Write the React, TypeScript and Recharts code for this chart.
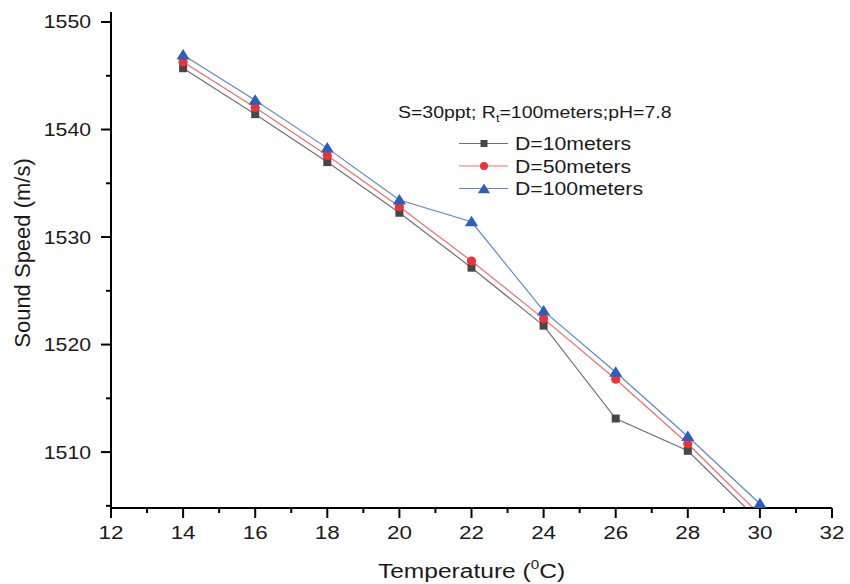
import React from 'react';
import { LineChart, Line, XAxis, YAxis } from 'recharts';

// ---- data ----
const temperatures = [14, 16, 18, 20, 22, 24, 26, 28, 30];
const speedD10 = [1545.7, 1541.43, 1536.97, 1532.26, 1527.15, 1521.76, 1513.12, 1510.12, 1503.53];
const speedD50 = [1546.28, 1542.05, 1537.59, 1532.81, 1527.77, 1522.41, 1516.78, 1510.77, 1504.18];
const speedD100 = [1546.93, 1542.73, 1538.27, 1533.44, 1531.42, 1523.13, 1517.43, 1511.45, 1505.2];
const seriesNames = ['D=10meters', 'D=50meters', 'D=100meters'];
const xTicks = [12, 13, 14, 15, 16, 17, 18, 19, 20, 21, 22, 23, 24, 25, 26, 27, 28, 29, 30, 31, 32];
const yTicks = [1505, 1510, 1515, 1520, 1525, 1530, 1535, 1540, 1545, 1550];
const xDomain = [12, 32];
const yDomain = [1504.8, 1550.93];

const data = temperatures.map((t, i) => ({
  t,
  d10: speedD10[i],
  d50: speedD50[i],
  d100: speedD100[i],
}));

const FONT = '"Liberation Sans", Arial, sans-serif';
const SX = 1.18;

const GREY_M = '#474747';
const GREY_L = '#707070';
const RED_M = '#ec3338';
const RED_L = '#f36b6b';
const BLUE_M = '#2d5fb8';
const BLUE_L = '#5b87cd';

const YTick = (props: any) => {
  const { x, y, payload } = props;
  const v = payload.value;
  const major = v % 10 === 0;
  return (
    <g>
      <line x1={x - (major ? 10 : 5)} x2={x} y1={y} y2={y} stroke="#000" strokeWidth={2} />
      {major && (
        <text
          transform={`translate(${x - 20},${y + 6.5}) scale(${SX},1)`}
          textAnchor="end"
          fontSize={18}
          fontFamily={FONT}
          fill="#1a1a1a"
        >
          {v}
        </text>
      )}
    </g>
  );
};

const XTick = (props: any) => {
  const { x, y, payload } = props;
  const v = payload.value;
  const major = v % 2 === 0;
  return (
    <g>
      <line x1={x} x2={x} y1={y} y2={y + (major ? 10 : 5)} stroke="#000" strokeWidth={2} />
      {major && (
        <text
          transform={`translate(${x},${y + 30.5}) scale(${SX},1)`}
          textAnchor="middle"
          fontSize={19}
          fontFamily={FONT}
          fill="#1a1a1a"
        >
          {v}
        </text>
      )}
    </g>
  );
};

const XLabel = (props: any) => {
  const vb = props.viewBox || {};
  const cx = vb.x + vb.width / 2;
  const y = vb.y + 70;
  return (
    <text
      transform={`translate(${cx},${y}) scale(1.17,1)`}
      textAnchor="middle"
      fontSize={21}
      fontFamily={FONT}
      fill="#1a1a1a"
    >
      Temperature (
      <tspan fontSize={13} dy={-9}>0</tspan>
      <tspan dy={9}>C)</tspan>
    </text>
  );
};

const YLabel = (props: any) => {
  const vb = props.viewBox || {};
  const cy = vb.y + vb.height / 2 - 7;
  const x = 30;
  return (
    <text
      transform={`translate(${x},${cy}) rotate(-90)`}
      textAnchor="middle"
      fontSize={22}
      fontFamily={FONT}
      fill="#1a1a1a"
    >
      Sound Speed (m/s)
    </text>
  );
};

const squarePath = (cx: number, cy: number, s: number) =>
  `M${cx - s},${cy - s}H${cx + s}V${cy + s}H${cx - s}Z`;
const triPath = (cx: number, cy: number, s: number) =>
  `M${cx},${cy - s}L${cx + s * 1.1},${cy + s * 0.75}L${cx - s * 1.1},${cy + s * 0.75}Z`;

const makeDot = (kind: string, color: string, dataKey: string) => (props: any) => {
  const { cx, cy, index, payload } = props;
  const k = `${dataKey}-${index}`;
  if (cx == null || cy == null || payload[dataKey] < yDomain[0]) return <g key={k} />;
  if (kind === 'square') return <path key={k} d={squarePath(cx, cy, 4)} fill={color} />;
  if (kind === 'circle') return <circle key={k} cx={cx} cy={cy} r={4.6} fill={color} />;
  return <path key={k} d={triPath(cx, cy, 6)} fill={color} />;
};

const LegendOverlay = () => {
  const rows = [
    { name: seriesNames[0], kind: 'square', m: GREY_M, l: GREY_L },
    { name: seriesNames[1], kind: 'circle', m: RED_M, l: RED_L },
    { name: seriesNames[2], kind: 'tri', m: BLUE_M, l: BLUE_L },
  ];
  const rowY = [143.5, 166, 188.5];
  return (
    <svg
      width={850}
      height={584}
      style={{ position: 'absolute', left: 0, top: 0, pointerEvents: 'none' }}
    >
      <text
        transform={`translate(398,118) scale(${SX},1)`}
        fontSize={16.5}
        fontFamily={FONT}
        fill="#1a1a1a"
      >
        S=30ppt; R<tspan fontSize={11} dy={4}>t</tspan>
        <tspan dy={-4}>=100meters;pH=7.8</tspan>
      </text>
      {rows.map((r, i) => {
        const y = rowY[i];
        return (
          <g key={r.name}>
            <line x1={459} x2={508} y1={y} y2={y} stroke={r.l} strokeWidth={1.2} />
            {r.kind === 'square' && <path d={squarePath(484, y, 3.5)} fill={r.m} />}
            {r.kind === 'circle' && <circle cx={484} cy={y} r={4} fill={r.m} />}
            {r.kind === 'tri' && <path d={triPath(484, y + 0.5, 5.5)} fill={r.m} />}
            <text
              transform={`translate(515,${y + 6.8}) scale(${SX},1)`}
              fontSize={18}
              fontFamily={FONT}
              fill="#1a1a1a"
            >
              {r.name}
            </text>
          </g>
        );
      })}
    </svg>
  );
};

export default function App() {
  return (
    <div style={{ position: 'absolute', left: 0, top: 0, width: 850, height: 584, background: '#fff' }}>
      <LineChart
        width={850}
        height={584}
        data={data}
        margin={{ top: 12, right: 18, bottom: 0, left: 0 }}
      >
        <XAxis
          dataKey="t"
          type="number"
          domain={xDomain}
          ticks={xTicks}
          interval={0}
          height={76}
          tickSize={0}
          tickMargin={0}
          tickLine={false}
          axisLine={{ stroke: '#000', strokeWidth: 2 }}
          tick={<XTick />}
          label={<XLabel />}
          allowDataOverflow
        />
        <YAxis
          type="number"
          domain={yDomain}
          ticks={yTicks}
          interval={0}
          width={111}
          tickSize={0}
          tickMargin={0}
          tickLine={false}
          axisLine={{ stroke: '#000', strokeWidth: 2 }}
          tick={<YTick />}
          label={<YLabel />}
          allowDataOverflow
        />
        <Line
          dataKey="d10"
          name={seriesNames[0]}
          stroke={GREY_L}
          strokeWidth={1.2}
          dot={makeDot('square', GREY_M, 'd10')}
          activeDot={false}
          isAnimationActive={false}
        />
        <Line
          dataKey="d50"
          name={seriesNames[1]}
          stroke={RED_L}
          strokeWidth={1.2}
          dot={makeDot('circle', RED_M, 'd50')}
          activeDot={false}
          isAnimationActive={false}
        />
        <Line
          dataKey="d100"
          name={seriesNames[2]}
          stroke={BLUE_L}
          strokeWidth={1.2}
          dot={makeDot('tri', BLUE_M, 'd100')}
          activeDot={false}
          isAnimationActive={false}
        />
      </LineChart>
      <LegendOverlay />
    </div>
  );
}
